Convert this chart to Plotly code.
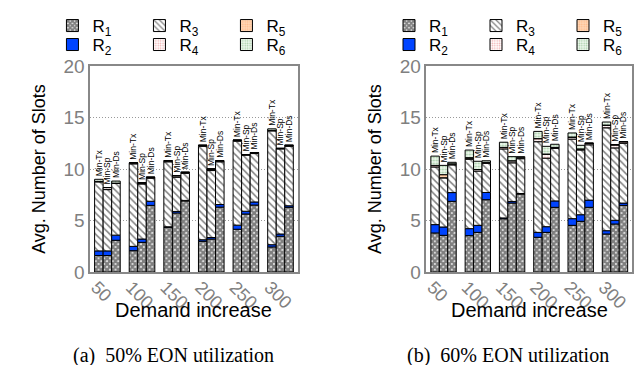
import numpy as np
import plotly.graph_objects as go

categories = ["50", "100", "150", "200", "250", "300"]
methods = ["Min-Tx", "Min-Sp", "Min-Ds"]
series_names = ["R<sub>1</sub>", "R<sub>2</sub>", "R<sub>3</sub>", "R<sub>4</sub>", "R<sub>5</sub>", "R<sub>6</sub>"]

# Panel (a) 50% EON utilization: each list = [Min-Tx, Min-Sp, Min-Ds] over categories
a_R1 = [[1.60, 2.07, 4.34, 2.98, 4.15, 2.43],
        [1.60, 2.88, 5.73, 3.20, 5.63, 3.47],
        [3.08, 6.47, 6.90, 6.30, 6.50, 6.28]]
a_R2 = [[0.45, 0.42, 0.05, 0.15, 0.40, 0.22],
        [0.45, 0.32, 0.15, 0.15, 0.27, 0.22],
        [0.50, 0.40, 0.05, 0.25, 0.30, 0.15]]
a_R3 = [[6.70, 8.01, 6.31, 9.07, 8.15, 11.05],
        [5.95, 5.35, 3.32, 6.50, 5.45, 8.26],
        [5.02, 2.23, 2.63, 4.15, 4.70, 5.77]]
a_R4 = [[0.05, 0.10, 0.10, 0.10, 0.10, 0.05],
        [0.20, 0.10, 0.15, 0.15, 0.05, 0.05],
        [0.03, 0.10, 0.10, 0.10, 0.10, 0.10]]
a_R5 = [[0.00, 0.00, 0.00, 0.00, 0.00, 0.00],
        [0.00, 0.00, 0.00, 0.00, 0.00, 0.00],
        [0.00, 0.00, 0.00, 0.00, 0.00, 0.00]]
a_R6 = [[0.20, 0.00, 0.00, 0.00, 0.00, 0.15],
        [0.00, 0.00, 0.00, 0.00, 0.00, 0.00],
        [0.20, 0.00, 0.00, 0.00, 0.00, 0.00]]

# Panel (b) 60% EON utilization
b_R1 = [[3.79, 3.53, 5.17, 3.37, 4.53, 3.69],
        [3.56, 3.85, 6.70, 3.85, 4.92, 4.66],
        [6.86, 7.02, 7.57, 6.28, 6.28, 6.47]]
b_R2 = [[0.81, 0.68, 0.08, 0.48, 0.65, 0.32],
        [0.81, 0.68, 0.15, 0.55, 0.64, 0.36],
        [0.85, 0.70, 0.05, 0.62, 0.70, 0.22]]
b_R3 = [[5.60, 6.74, 6.70, 8.80, 7.72, 9.99],
        [4.78, 5.27, 3.75, 6.65, 6.29, 7.03],
        [2.69, 2.83, 3.38, 5.10, 5.37, 5.81]]
b_R4 = [[0.15, 0.10, 0.15, 0.30, 0.20, 0.26],
        [0.00, 0.15, 0.20, 0.40, 0.10, 0.30],
        [0.10, 0.10, 0.10, 0.10, 0.15, 0.15]]
b_R5 = [[0.00, 0.05, 0.00, 0.00, 0.00, 0.00],
        [0.30, 0.00, 0.00, 0.00, 0.00, 0.00],
        [0.00, 0.00, 0.00, 0.00, 0.00, 0.00]]
b_R6 = [[0.90, 0.74, 0.50, 0.70, 0.40, 0.30],
        [0.90, 0.80, 0.40, 0.75, 0.35, 0.00],
        [0.15, 0.15, 0.10, 0.30, 0.00, 0.00]]

captions = ["(a)  50% EON utilization", "(b)  60% EON utilization"]
x_title = "Demand increase"
y_title = "Avg. Number of Slots"

styles = [
    dict(color="white", pattern=dict(shape="x", fgcolor="black", bgcolor="white", size=4, solidity=0.85)),
    dict(color="#0044ff"),
    dict(color="white", pattern=dict(shape="\\", fgcolor="black", bgcolor="white", size=5, solidity=0.3)),
    dict(color="white", pattern=dict(shape=".", fgcolor="#e05a5a", bgcolor="white", size=3, solidity=0.35)),
    dict(color="#ffcfa8", pattern=dict(shape=".", fgcolor="#ff9955", bgcolor="#ffd8b8", size=3, solidity=0.4)),
    dict(color="white", pattern=dict(shape=".", fgcolor="#5aa05a", bgcolor="#eef8ee", size=3, solidity=0.35)),
]
legend_of = [0, 1, 0, 1, 0, 1]  # row: R1,R3,R5 top row; R2,R4,R6 bottom row

panels = [
    [a_R1, a_R2, a_R3, a_R4, a_R5, a_R6],
    [b_R1, b_R2, b_R3, b_R4, b_R5, b_R6],
]

fig = go.Figure()
annotations = []
grey = "#808080"
font_sans = "Liberation Sans"

for p, data in enumerate(panels):
    xa = "x" if p == 0 else "x2"
    ya = "y" if p == 0 else "y2"
    arr = np.array(data, dtype=float)  # series, method, category
    for m, meth in enumerate(methods):
        base = np.zeros(len(categories))
        for s in range(6):
            vals = arr[s, m]
            legname = ["legend", "legend2", "legend3", "legend4"][p * 2 + legend_of[s]]
            top = (s == 5)
            fig.add_trace(go.Bar(
                x=categories, y=vals, base=base.copy(),
                offsetgroup=meth, xaxis=xa, yaxis=ya,
                name=series_names[s], legend=legname,
                showlegend=(m == 0), legendrank=s + 1,
                marker=dict(line=dict(color="black", width=1), **styles[s]),
                text=[meth] * len(categories) if top else None,
                textposition="outside" if top else "none",
                textangle=-90, constraintext="none", cliponaxis=False,
                outsidetextfont=dict(family=font_sans, size=8.5, color="black"),
                hoverinfo="skip",
            ))
            base = base + vals

doms = [[83 / 642, 293 / 642], [423 / 642, 631 / 642]]
cap_x = [167 / 642, 506 / 642]
for p in range(2):
    cx = (doms[p][0] + doms[p][1]) / 2
    annotations.append(dict(
        x=cx, y=1 - 302 / 365, xref="paper", yref="paper",
        text=x_title, showarrow=False, xanchor="center", yanchor="middle",
        font=dict(family=font_sans, size=20, color="black"),
    ))
    annotations.append(dict(
        x=cap_x[p], y=1 - 347 / 365, xref="paper", yref="paper",
        text=captions[p], showarrow=False, xanchor="center", yanchor="middle",
        font=dict(family="Liberation Serif", size=20, color="black"),
    ))

axis_common = dict(showline=True, linecolor="#888888", linewidth=1.5, mirror=True)
layout = dict(
    width=642, height=365, margin=dict(l=0, r=0, t=0, b=0),
    plot_bgcolor="white", paper_bgcolor="white",
    barmode="group", bargap=0.26, bargroupgap=0.0,
    annotations=annotations,
    font=dict(family=font_sans),
)
for p in range(2):
    sfx = "" if p == 0 else "2"
    layout["xaxis" + sfx] = dict(
        domain=doms[p], type="category", tickangle=45, anchor="y" + sfx,
        range=[-0.5, len(categories) - 0.5], autorange=False,
        tickfont=dict(size=18, color=grey, family=font_sans), ticks="",
        ticklabelshift=-11, ticklabelstandoff=-4,
        showgrid=False, automargin=False, **axis_common)
    layout["yaxis" + sfx] = dict(
        domain=[1 - 264 / 365, 1 - 58 / 365], range=[0, 20], autorange=False,
        tickvals=[0, 5, 10, 15, 20], anchor="x" + sfx,
        tickfont=dict(size=19, color=grey, family=font_sans), ticks="",
        showgrid=True, gridcolor="#999999", griddash="1px,2px", gridwidth=1,
        title=dict(text=y_title, font=dict(size=18, color="black"), standoff=13),
        zeroline=False, automargin=False, **axis_common)

leg_common = dict(orientation="h", xanchor="left", yanchor="top", bgcolor="rgba(0,0,0,0)",
                  font=dict(size=17, family=font_sans, color="black"),
                  entrywidth=42, entrywidthmode="pixels", itemwidth=30,
                  traceorder="normal")
leg_x = [0.07, 0.60]
layout["legend"] = dict(x=leg_x[0], y=1.0, **leg_common)
layout["legend2"] = dict(x=leg_x[0], y=0.948, **leg_common)
layout["legend3"] = dict(x=leg_x[1], y=1.0, **leg_common)
layout["legend4"] = dict(x=leg_x[1], y=0.948, **leg_common)

fig.update_layout(**layout)
fig.write_html("out.html")
